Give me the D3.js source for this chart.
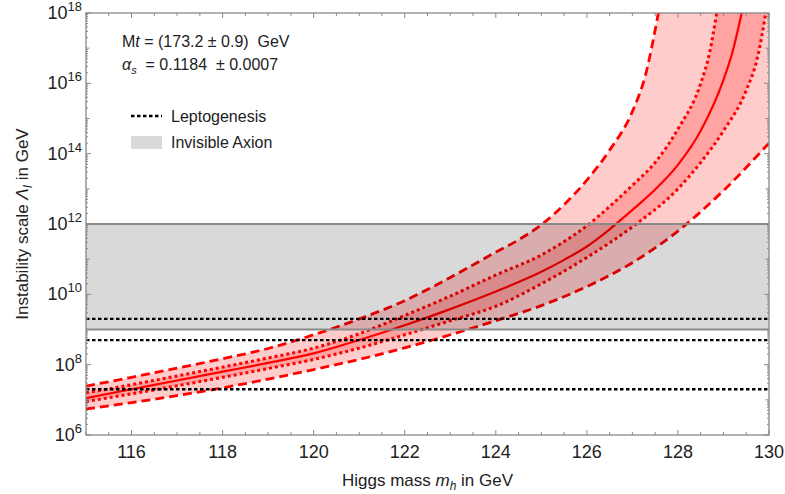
<!DOCTYPE html>
<html lang="en">
<head>
<meta charset="UTF-8">
<title>Instability scale</title>
<script src="https://cdn.jsdelivr.net/npm/d3@7"></script>
<style>
  body { margin: 0; background: #fff; }
  svg text { font-family: "Liberation Sans", Arial, sans-serif; fill: #222; }
</style>
</head>
<body>
<div id="chart"></div>
<script>
// curves: [Higgs mass in GeV, log10 of scale in GeV]
var centralCurve = [[115,7.05],[116,7.30],[117,7.55],[118,7.80],[119,8.05],[120,8.32],[121,8.70],[122,9.12],
  [123,9.58],[124,10.08],[125,10.64],[125.5,10.98],[126,11.36],[126.5,11.85],[127,12.40],[127.5,12.98],[128,13.68],[128.5,14.65],[129,16.1],[129.2,16.9],[129.4,18]];
var innerUpper = [[115,7.20],[116,7.43],[117,7.68],[118,7.93],[119,8.19],[120,8.47],[121,8.88],[122,9.40],
  [123,9.95],[124,10.55],[125,11.12],[125.5,11.5],[126,11.95],[126.5,12.5],[127,13.1],[127.5,13.75],[128,14.7],[128.5,16.0],[128.7,16.9],[128.85,18]];
var innerLower = [[115,6.95],[116,7.17],[117,7.40],[118,7.64],[119,7.89],[120,8.15],[121,8.47],[122,8.85],
  [123,9.25],[124,9.66],[125,10.30],[126,11.05],[127,11.92],[128,13.0],[128.5,13.75],[129,14.65],[129.5,15.8],[129.75,16.75],[129.93,18]];
var outerUpper = [[115,7.39],[116,7.64],[117,7.90],[118,8.17],[119,8.46],[120,8.85],[121,9.30],[122,9.82],
  [123,10.48],[124,11.2],[124.5,11.55],[125,11.98],[125.5,12.55],[126,13.25],[126.5,14.1],[127,15.2],[127.3,16.3],[127.57,18]];
var outerLower = [[115,6.74],[116,6.92],[117,7.12],[118,7.34],[119,7.59],[120,7.86],[121,8.15],[122,8.48],
  [123,8.85],[124,9.25],[125,9.68],[126,10.22],[127,10.9],[128,11.8],[129,12.95],[130,14.3]];

var leptogenesis = [2e9, 5e8, 2e7];
var axionBand = [1e9, 1e12];
var xLabels = [116, 118, 120, 122, 124, 126, 128, 130];
var yLabelExps = [6, 8, 10, 12, 14, 16, 18];

var width = 785, height = 494;
var pLeft = 86, pRight = 769, pTop = 13, pBottom = 435;

var svg = d3.select("#chart").append("svg")
    .attr("width", width).attr("height", height);

var x = d3.scaleLinear().domain([115, 130]).range([pLeft, pRight]);
var y = d3.scaleLog().domain([1e6, 1e18]).range([pBottom, pTop]);

svg.append("clipPath").attr("id", "plotclip")
  .append("rect").attr("x", pLeft).attr("y", pTop)
  .attr("width", pRight - pLeft).attr("height", pBottom - pTop);

var line = d3.line()
    .x(function (d) { return x(d[0]); })
    .y(function (d) { return y(Math.pow(10, d[1])); })
    .curve(d3.curveMonotoneX);

// closed band: upper curve forward, across the top, lower curve backward
function band(up, low, corner) {
  var d = line(up);
  corner.forEach(function (c) { d += "L" + x(c[0]) + "," + y(Math.pow(10, c[1])); });
  d += line(low.slice().reverse()).replace(/^M/, "L");
  return d + "Z";
}

var plot = svg.append("g").attr("clip-path", "url(#plotclip)");

plot.append("path")
  .attr("d", band(outerUpper, outerLower, [[130, 18]]))
  .attr("fill", "rgba(255,0,0,0.2)");
plot.append("path")
  .attr("d", band(innerUpper, innerLower, []))
  .attr("fill", "rgba(255,0,0,0.2)");

[outerUpper, outerLower].forEach(function (c) {
  plot.append("path").attr("d", line(c)).attr("fill", "none")
    .attr("stroke", "#ff0000").attr("stroke-width", 2.8).attr("stroke-dasharray", "9,5");
});
[innerUpper, innerLower].forEach(function (c) {
  plot.append("path").attr("d", line(c)).attr("fill", "none")
    .attr("stroke", "#ff0000").attr("stroke-width", 3).attr("stroke-dasharray", "3,3");
});
plot.append("path").attr("d", line(centralCurve)).attr("fill", "none")
  .attr("stroke", "#ff0000").attr("stroke-width", 2.2);

// invisible axion window, drawn over the red
plot.append("rect")
  .attr("x", pLeft).attr("width", pRight - pLeft)
  .attr("y", y(axionBand[1])).attr("height", y(axionBand[0]) - y(axionBand[1]))
  .attr("fill", "rgba(0,0,0,0.15)");
axionBand.forEach(function (v) {
  plot.append("line").attr("x1", pLeft).attr("x2", pRight)
    .attr("y1", y(v)).attr("y2", y(v))
    .attr("stroke", "#8a8a8a").attr("stroke-width", 2);
});

leptogenesis.forEach(function (v) {
  plot.append("line").attr("x1", pLeft).attr("x2", pRight)
    .attr("y1", y(v)).attr("y2", y(v))
    .attr("stroke", "#000").attr("stroke-width", 2.3).attr("stroke-dasharray", "3.5,2.5");
});

// frame and ticks on all four sides
var axisColor = "#888";
svg.append("rect").attr("x", pLeft).attr("y", pTop)
  .attr("width", pRight - pLeft).attr("height", pBottom - pTop)
  .attr("fill", "none").attr("stroke", axisColor).attr("stroke-width", 1.3);

var ticks = svg.append("g").attr("stroke", axisColor).attr("stroke-width", 1);
d3.range(115, 130.01, 0.5).forEach(function (m) {
  var len = (m % 2 === 0) ? 5 : 3;
  ticks.append("line").attr("x1", x(m)).attr("x2", x(m)).attr("y1", pBottom).attr("y2", pBottom - len);
  ticks.append("line").attr("x1", x(m)).attr("x2", x(m)).attr("y1", pTop).attr("y2", pTop + len);
});
d3.range(6, 19).forEach(function (e) {
  var len = (e % 2 === 0) ? 5 : 3.5;
  var py = y(Math.pow(10, e));
  ticks.append("line").attr("x1", pLeft).attr("x2", pLeft + len).attr("y1", py).attr("y2", py);
  ticks.append("line").attr("x1", pRight).attr("x2", pRight - len).attr("y1", py).attr("y2", py);
  if (e < 18) {
    d3.range(2, 10).forEach(function (k) {
      var my = y(k * Math.pow(10, e));
      ticks.append("line").attr("x1", pLeft).attr("x2", pLeft + 2).attr("y1", my).attr("y2", my);
      ticks.append("line").attr("x1", pRight).attr("x2", pRight - 2).attr("y1", my).attr("y2", my);
    });
  }
});

// tick labels
xLabels.forEach(function (m) {
  svg.append("text").attr("x", x(m)).attr("y", 458)
    .attr("text-anchor", "middle").attr("font-size", 18).text(m);
});
yLabelExps.forEach(function (e) {
  var t = svg.append("text").attr("x", 82).attr("y", y(Math.pow(10, e)) + 6)
    .attr("text-anchor", "end").attr("font-size", 18);
  t.append("tspan").text("10");
  t.append("tspan").attr("font-size", 13).attr("dy", -8).text(e);
});

// axis titles
var xt = svg.append("text").attr("x", (pLeft + pRight) / 2).attr("y", 486)
  .attr("text-anchor", "middle").attr("font-size", 17);
xt.append("tspan").text("Higgs mass ");
xt.append("tspan").attr("font-style", "italic").text("m");
xt.append("tspan").attr("font-style", "italic").attr("font-size", 12).attr("dy", 4).text("h");
xt.append("tspan").attr("dy", -4).text(" in GeV");

var yt = svg.append("text").attr("transform", "translate(28," + ((pTop + pBottom) / 2) + ")rotate(-90)")
  .attr("text-anchor", "middle").attr("font-size", 17);
yt.append("tspan").text("Instability scale ");
yt.append("tspan").attr("font-style", "italic").text("Λ");
yt.append("tspan").attr("font-style", "italic").attr("font-size", 12).attr("dy", 4).text("I");
yt.append("tspan").attr("dy", -4).text(" in GeV");

// parameter notes
var n1 = svg.append("text").attr("x", 122).attr("y", 47).attr("font-size", 16);
n1.append("tspan").text("M");
n1.append("tspan").attr("font-style", "italic").text("t");
n1.append("tspan").text(" = (173.2 ± 0.9)\u00a0\u00a0GeV");
var n2 = svg.append("text").attr("x", 122).attr("y", 70).attr("font-size", 16);
n2.append("tspan").attr("font-style", "italic").text("α");
n2.append("tspan").attr("font-style", "italic").attr("font-size", 11).attr("dy", 4).text("s");
n2.append("tspan").attr("dy", -4).text("\u00a0\u00a0=\u00a00.1184\u00a0\u00a0±\u00a00.0007");

// legend
svg.append("line").attr("x1", 131).attr("x2", 162).attr("y1", 116).attr("y2", 116)
  .attr("stroke", "#000").attr("stroke-width", 2.3).attr("stroke-dasharray", "3.5,2.5");
svg.append("text").attr("x", 171).attr("y", 122).attr("font-size", 16).text("Leptogenesis");
svg.append("rect").attr("x", 131).attr("y", 136).attr("width", 31).attr("height", 13)
  .attr("fill", "rgba(0,0,0,0.15)");
svg.append("text").attr("x", 171).attr("y", 148).attr("font-size", 16).text("Invisible Axion");
</script>
</body>
</html>
